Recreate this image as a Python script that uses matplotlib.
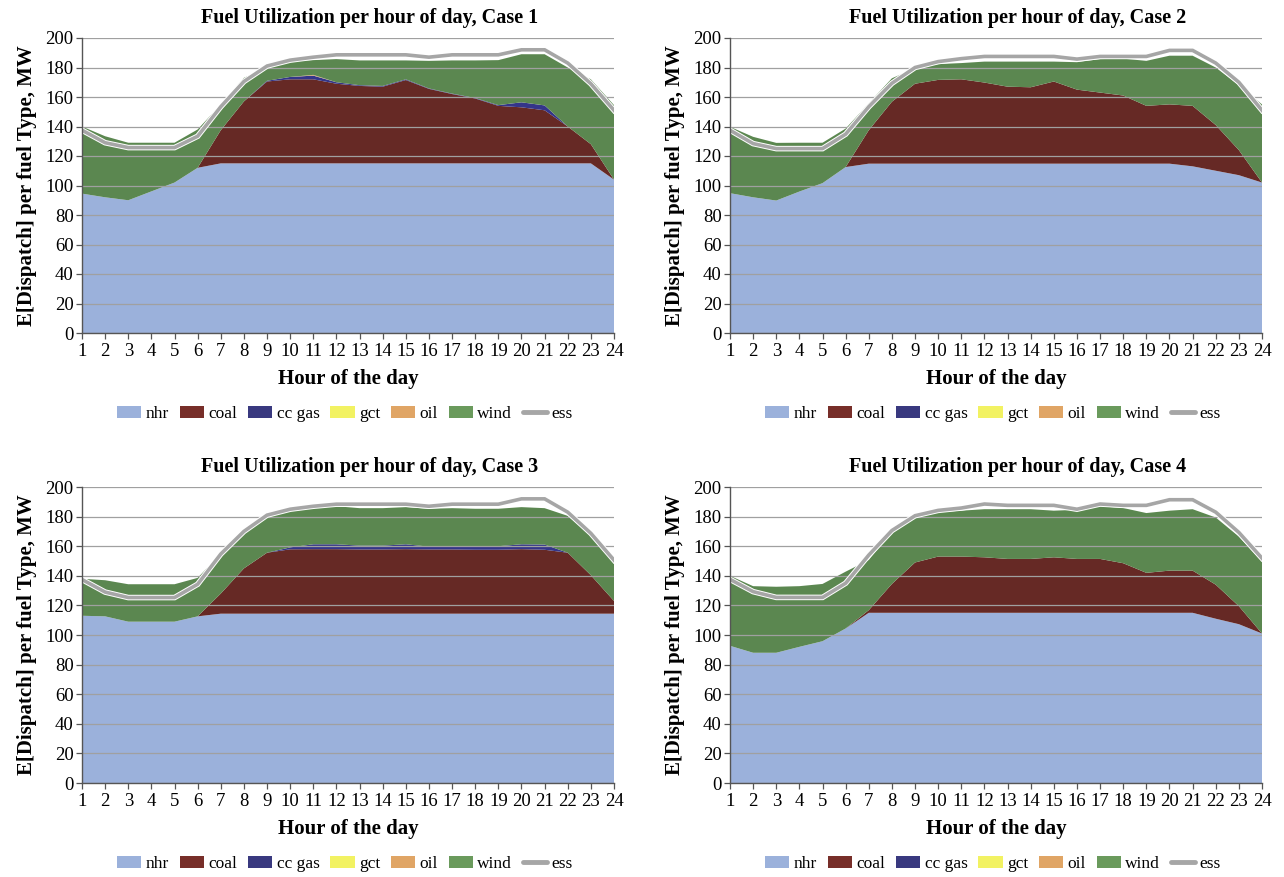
import matplotlib
matplotlib.use("Agg")
import matplotlib.pyplot as plt
import matplotlib.patheffects as pe
from matplotlib.patches import Patch
from matplotlib.lines import Line2D
import numpy as np

plt.rcParams['font.family'] = ['Liberation Serif', 'DejaVu Serif']

hours = list(range(1, 25))
fuel_names = ["nhr", "coal", "cc gas", "gct", "oil", "wind"]
line_name = "ess"
case_titles = ["Fuel Utilization per hour of day, Case 1",
               "Fuel Utilization per hour of day, Case 2",
               "Fuel Utilization per hour of day, Case 3",
               "Fuel Utilization per hour of day, Case 4"]

# ---- Case 1 ----
c1_nhr = [94.5, 92, 90, 96, 102, 112, 115, 115, 115, 115, 115, 115, 115, 115, 115, 115, 115, 115, 115, 115, 115, 115, 115, 104]
c1_coal = [0, 0, 0, 0, 0, 0, 22.5, 42, 55.5, 57, 57, 54, 52.5, 52, 56.5, 50.5, 47, 44, 39, 38, 36, 25, 13, 0]
c1_ccgas = [0, 0, 0, 0, 0, 0, 0, 0, 0.5, 1.6, 2.5, 1, 0.5, 0.5, 0.5, 0.3, 0.3, 0.3, 0.5, 3.4, 3.3, 0, 0, 0]
c1_gct = [0] * 24
c1_oil = [0, 0, 0, 0, 0, 0, 0, 0, 0, 0, 0.5, 0, 0, 0, 0, 0, 0, 0, 0, 0, 0, 0, 0, 0]
c1_wind = [45.5, 41.4, 39, 33, 27, 26, 17.5, 16, 9, 10.9, 10, 15.7, 16.8, 17.3, 12.8, 18.7, 22.5, 25.5, 30.5, 32.6, 34.7, 40, 44, 50.5]
c1_ess = [137.5, 129, 125.7, 125.7, 125.7, 133.4, 153.4, 170.5, 181, 185, 187, 188.6, 188.6, 188.6, 188.6, 187, 188.6, 188.6, 188.6, 192, 192, 183, 169, 151]

# ---- Case 2 ----
c2_nhr = [94.8, 92, 89.8, 95.9, 101.6, 112.5, 114.8, 114.8, 114.8, 114.8, 114.8, 114.8, 114.8, 114.8, 114.8, 114.8, 114.8, 114.8, 114.8, 114.8, 113, 110, 107, 102]
c2_coal = [0, 0, 0, 0, 0, 0, 22.7, 42, 54.2, 56.8, 57.2, 55, 52.2, 51.8, 55.7, 50.2, 48.2, 46.2, 39.2, 40.2, 41, 31, 17, 0]
c2_ccgas = [0] * 24
c2_gct = [0] * 24
c2_oil = [0] * 24
c2_wind = [45, 41, 39.1, 33.1, 27.4, 26.1, 18.2, 15.9, 10.5, 10.7, 11, 14.2, 17, 17.4, 13.5, 18.6, 22.7, 25, 30.5, 33, 34, 39, 44, 53]
c2_ess = [137.5, 128.4, 125, 125, 125, 134.8, 153.4, 169.3, 180, 184, 186, 187.5, 187.5, 187.5, 187.5, 185.7, 187.5, 187.5, 187.5, 191.6, 191.6, 183, 170, 151]

# ---- Case 3 ----
c3_nhr = [113, 112.6, 109, 109, 109, 112.6, 114.4, 114.4, 114.4, 114.4, 114.4, 114.4, 114.4, 114.4, 114.4, 114.4, 114.4, 114.4, 114.4, 114.4, 114.4, 114.4, 114.4, 114.4]
c3_coal = [0, 0, 0, 0, 0, 0, 13.6, 30.6, 41.2, 43.5, 43.6, 43.6, 43.4, 43.4, 43.6, 43.4, 43.4, 43.2, 43.2, 43.6, 43.2, 41.2, 26, 8.6]
c3_ccgas = [0, 0, 0, 0, 0, 0, 0, 0, 0, 1.3, 3.3, 3.3, 2.6, 2.6, 3.3, 1.9, 2.2, 2.4, 2.4, 3.3, 3.5, 0, 0, 0]
c3_gct = [0] * 24
c3_oil = [0] * 24
c3_wind = [25, 24.4, 25.3, 25.3, 25.3, 26, 27, 25, 24, 24.8, 24.4, 25.7, 25.3, 25.3, 25.1, 25.6, 25.7, 25.3, 25.3, 25.1, 24.6, 24.9, 27.2, 25.4]
c3_ess = [137.5, 129, 125.3, 125.3, 125.3, 134.3, 154.7, 170, 181, 185, 187, 188.4, 188.4, 188.4, 188.4, 187, 188.4, 188.4, 188.4, 192, 192, 183, 168.7, 150.6]

# ---- Case 4 ----
c4_nhr = [92.7, 88, 88, 92, 95.8, 104.4, 115, 115, 115, 115, 115, 115, 115, 115, 115, 115, 115, 115, 115, 115, 115, 111, 107.3, 101]
c4_coal = [0, 0, 0, 0, 0, 0, 1.8, 19.5, 34, 38, 38, 37.5, 36.4, 36.4, 37.5, 36.4, 36.4, 33.5, 27, 28.5, 28.5, 23, 12.2, 0]
c4_ccgas = [0] * 24
c4_gct = [0] * 24
c4_oil = [0] * 24
c4_wind = [47.3, 45, 44.6, 41, 38.7, 38.4, 33.9, 35.5, 30.4, 30, 31, 32.5, 33.6, 33.6, 31.5, 33.2, 35.6, 37.3, 40.4, 40.5, 41.5, 45.4, 47, 48.6]
c4_ess = [137.6, 129.3, 125.4, 125.4, 125.4, 135, 154, 170.6, 180.6, 184.2, 185.8, 188.5, 187.6, 187.6, 187.6, 185, 188.5, 187.6, 187.6, 191.4, 191.4, 183, 169.3, 151.9]

cases = [
    (c1_nhr, c1_coal, c1_ccgas, c1_gct, c1_oil, c1_wind, c1_ess),
    (c2_nhr, c2_coal, c2_ccgas, c2_gct, c2_oil, c2_wind, c2_ess),
    (c3_nhr, c3_coal, c3_ccgas, c3_gct, c3_oil, c3_wind, c3_ess),
    (c4_nhr, c4_coal, c4_ccgas, c4_gct, c4_oil, c4_wind, c4_ess),
]

fill_colors = ["#9BB1DB", "#662925", "#343589", "#F2EF5E", "#DFA262", "#5B8750"]
legend_colors = ["#9BB1DB", "#772E29", "#39397F", "#F2F262", "#E0A565", "#6A9A5C"]
ess_color = "#A6A6A6"

W, H = 1284, 877
fig = plt.figure(figsize=(W / 100, H / 100), dpi=100)

# axes boxes in pixels: left, top, right, bottom
boxes = [(82, 38, 614, 333), (730, 38, 1262, 333),
         (82, 487, 614, 783), (730, 487, 1262, 783)]

for (l, t, r, b), data, title in zip(boxes, cases, case_titles):
    ax = fig.add_axes([l / W, 1 - b / H, (r - l) / W, (b - t) / H])
    ah = b - t
    aw = r - l
    layers = [np.array(d, dtype=float) for d in data[:6]]
    ess = data[6]
    ax.stackplot(hours, *layers, colors=fill_colors, linewidth=0, zorder=2)
    ax.plot(hours, ess, color=ess_color, lw=2.6, zorder=4, solid_joinstyle='miter',
            path_effects=[pe.Stroke(linewidth=4.0, foreground='white'), pe.Normal()])
    ax.set_xlim(1, 24)
    ax.set_ylim(0, 200)
    ax.set_xticks(hours)
    ax.set_yticks(range(0, 201, 20))
    ax.yaxis.grid(True, color="#A0A0A0", lw=0.9, zorder=3)
    ax.set_axisbelow(False)
    for s in ("top", "right"):
        ax.spines[s].set_visible(False)
    for s in ("left", "bottom"):
        ax.spines[s].set_color("#555555")
        ax.spines[s].set_linewidth(1.0)
        ax.spines[s].set_zorder(5)
    ax.tick_params(axis="both", direction="out", length=4, width=0.9, color="#555555",
                   labelsize=13.5, pad=2)
    ax.tick_params(axis="x", pad=3)
    ax.text(0.5 + 22 / aw, 1 + 20 / ah, title, transform=ax.transAxes, ha="center",
            va="center", fontsize=14.5, fontweight="bold")
    ax.set_xlabel("Hour of the day", fontsize=15, fontweight="bold", labelpad=7)
    ax.set_ylabel("E[Dispatch] per fuel Type, MW", fontsize=15, fontweight="bold", labelpad=6)
    handles = [Patch(facecolor=c, edgecolor="none") for c in legend_colors]
    handles.append(Line2D([0], [0], color=ess_color, lw=3.5, solid_capstyle="round"))
    ax.legend(handles, fuel_names + [line_name], loc="center",
              bbox_to_anchor=(0.5 - 3 / aw, -81 / ah), ncol=7, frameon=False, fontsize=12.5,
              handlelength=1.4, handleheight=0.7, handletextpad=0.25, columnspacing=0.62,
              borderpad=0, borderaxespad=0)

fig.savefig("out.png", dpi=100)
